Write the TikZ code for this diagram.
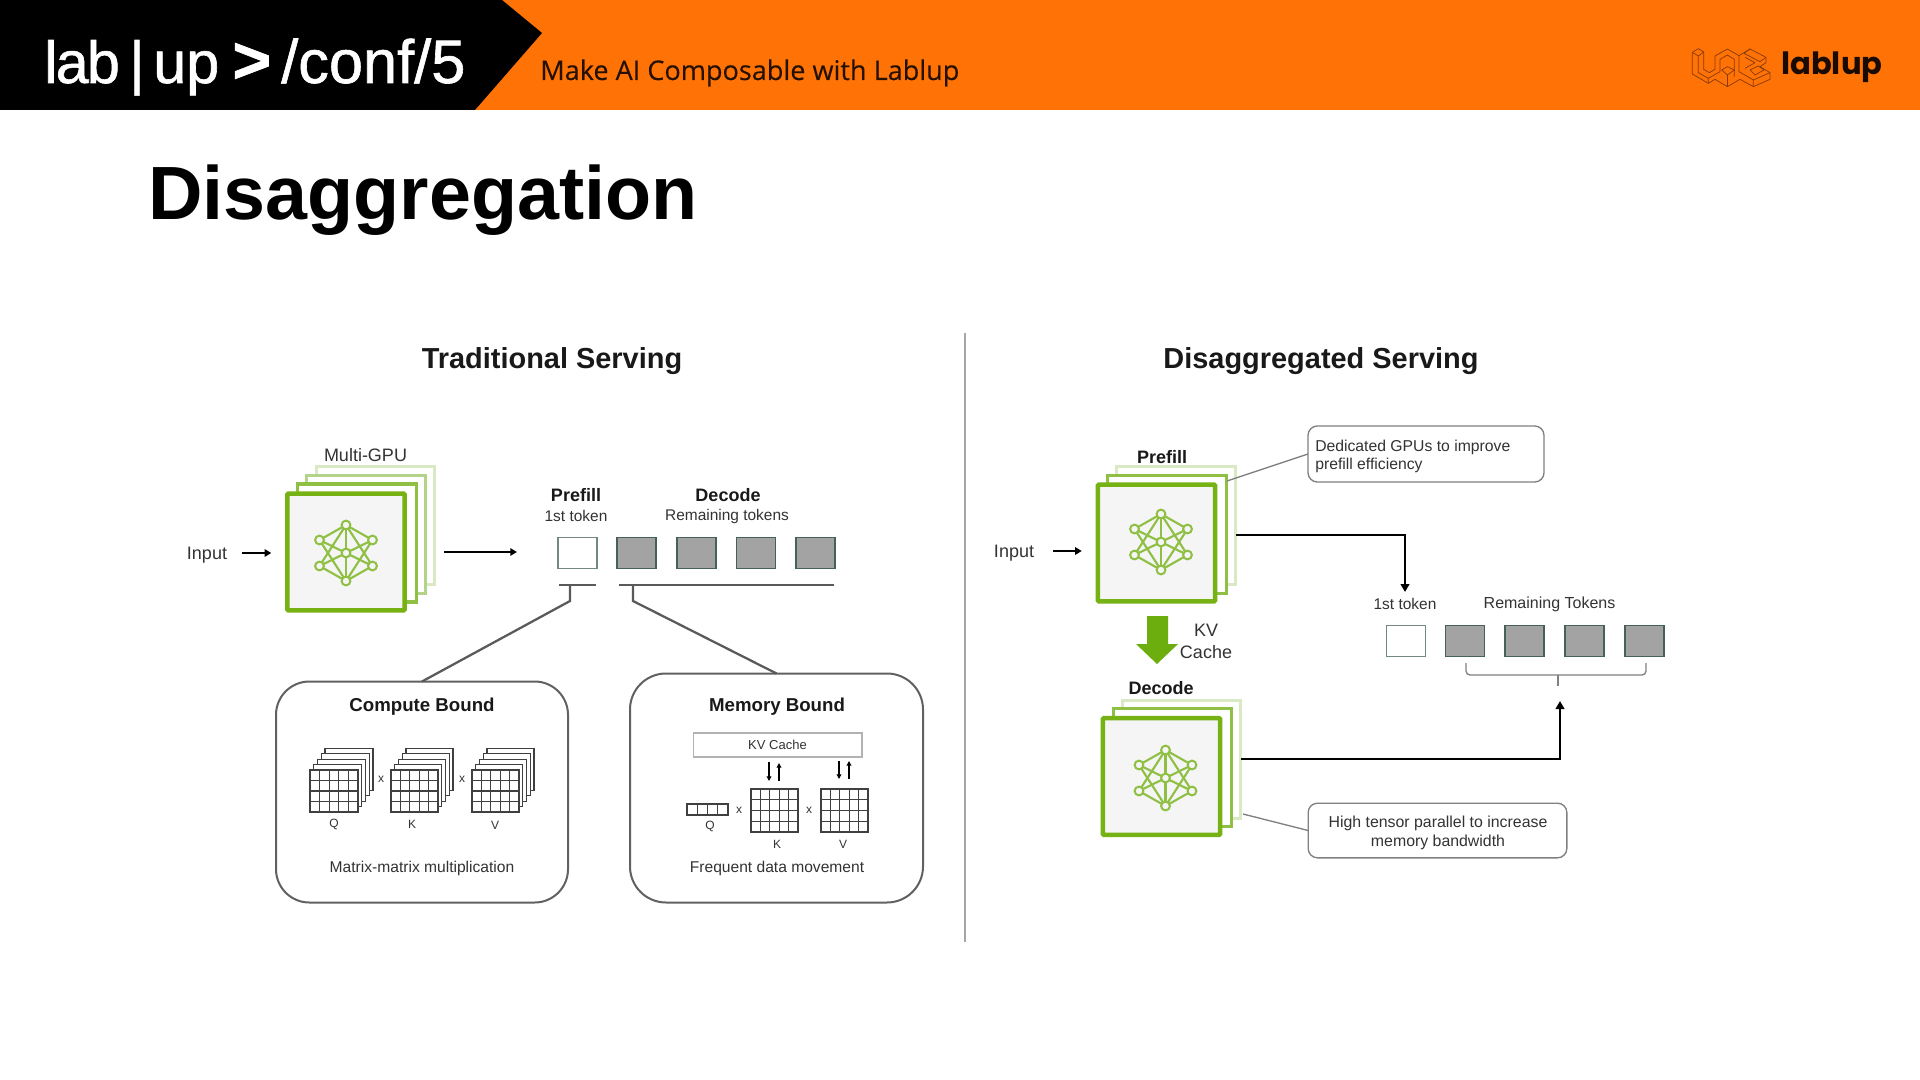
\documentclass[tikz,border=0pt]{standalone}
\usepackage{fontspec}
\setmainfont{Liberation Sans}
\newfontfamily\logofont{Poppins}
\newfontfamily\tagfont[FakeBold=0.25]{Open Sans}
\newfontfamily\bannerfont[LetterSpace=-3,FakeBold=1]{Liberation Sans}
\newfontfamily\bannerwide[FakeBold=1]{Liberation Sans}
\usetikzlibrary{arrows.meta,calc}
\definecolor{nvgreen}{HTML}{76B214}
\definecolor{nvgreenb}{HTML}{8FC044}
\definecolor{nvgreenc}{HTML}{B2D388}
\definecolor{nvgreend}{HTML}{D9E9C4}
\definecolor{arrowgreen}{HTML}{6CAE0E}
\definecolor{banner}{HTML}{FF7306}
\definecolor{txt}{HTML}{333333}
\definecolor{tokenfill}{HTML}{A3A3A3}
\definecolor{tokenline}{HTML}{46605A}
\definecolor{lineg}{HTML}{5A5A5A}
\definecolor{logoline}{HTML}{8A3A08}
\newcommand{\fs}[1]{\fontsize{#1}{#1}\selectfont}
\tikzset{
  x=0.75pt,y=-0.75pt,
  lbl/.style={inner sep=0,outer sep=0,text=txt,font=\fs{13.5}},
  boldlbl/.style={inner sep=0,outer sep=0,text=black!90,font=\fs{13.5}\bfseries},
  small/.style={inner sep=0,outer sep=0,text=txt,font=\fs{11.6}},
  tiny/.style={inner sep=0,outer sep=0,text=txt,font=\fs{9}},
  tokw/.style={draw=tokenline!75,line width=1.2pt,fill=white,inner sep=0,outer sep=0,minimum width=29.5pt,minimum height=23.5pt},
  tokg/.style={draw=tokenline,line width=1.2pt,fill=tokenfill,inner sep=0,outer sep=0,minimum width=29.5pt,minimum height=23.5pt},
  sq/.style={rectangle,inner sep=0,outer sep=0,minimum width=89pt,minimum height=88.5pt},
  sqa/.style={sq,draw=nvgreen,line width=3.4pt,fill=black!4,rounded corners=0.8pt,minimum width=88pt,minimum height=87.5pt},
  sqb/.style={sq,draw=nvgreenb,line width=2.4pt,fill=white},
  sqc/.style={sq,draw=nvgreenc,line width=2.4pt,fill=white},
  sqd/.style={sq,draw=nvgreend,line width=2.4pt,fill=white},
  netn/.style={circle,draw=nvgreenb,line width=1.5pt,fill=black!4,minimum size=6.6pt,inner sep=0,outer sep=0},
  netl/.style={draw=nvgreenb,line width=1.6pt},
  arrowk/.style={draw=black,line width=1.6pt,-{Triangle[length=5pt,width=5.5pt]}},
  bigbox/.style={rectangle,draw=black!62,line width=1.5pt,inner sep=0,outer sep=0},
  callout/.style={rectangle,draw=black!50,line width=1pt,rounded corners=7pt,inner sep=0,outer sep=0},
  leader/.style={draw=black!50,line width=1pt},
  bar/.style={draw=lineg,line width=1.7pt},
  gridl/.style={draw=black!75,line width=0.8pt},
  thickarrow/.style={draw=black,line width=2.2pt,-{Triangle[length=6pt,width=6.5pt]}},
  minarrow/.style={draw=black,line width=0.9pt,-{Triangle[length=3.5pt,width=3.5pt]}},
  logol/.style={draw=logoline,line width=0.55pt,line join=round},
}
% network icon: name, centre x, centre y
\newcommand{\netw}[3]{%
  \node[netn] (#1-t) at (#2,#3-28) {};
  \node[netn] (#1-b) at (#2,#3+28) {};
  \node[netn] (#1-ul) at (#2-26.5,#3-13) {};
  \node[netn] (#1-ur) at (#2+26.5,#3-13) {};
  \node[netn] (#1-ll) at (#2-26.5,#3+13) {};
  \node[netn] (#1-lr) at (#2+26.5,#3+13) {};
  \node[netn] (#1-c) at (#2,#3) {};
  \foreach \a/\b in {t/ul,t/ur,t/c,t/ll,t/lr,b/ll,b/lr,b/c,b/ul,b/ur,ul/c,ur/c,ll/c,lr/c}
    \draw[netl] (#1-\a) -- (#1-\b);
}
% matrix grid: x1,y1,x2,y2,cols,rows
\newcommand{\gridm}[6]{%
  \draw[gridl,fill=white] (#1,#2) rectangle (#3,#4);
  \foreach \i in {1,...,#5} {\pgfmathsetmacro{\xx}{#1+(#3-#1)*\i/#5}
    \draw[gridl] (\xx,#2) -- (\xx,#4);}
  \foreach \i in {1,...,#6} {\pgfmathsetmacro{\yy}{#2+(#4-#2)*\i/#6}
    \draw[gridl] (#1,\yy) -- (#3,\yy);}
}
% stacked matrix: x1,x2
\newcommand{\stackm}[2]{%
  \foreach \k in {4,3,2,1} {
    \draw[gridl,fill=white] (#1+3.75*\k,770-5.4*\k) rectangle (#2+3.75*\k,812-5.4*\k);}
  \gridm{#1}{770}{#2}{812}{5}{4}
}
\begin{document}
\begin{tikzpicture}
\useasboundingbox (0,0) rectangle (1920,1080);
\fill[white] (0,0) rectangle (1920,1080);
% header
\fill[banner] (0,0) rectangle (1920,110);
\fill[black] (0,0) -- (502,0) -- (542,33) -- (475,110) -- (0,110) -- cycle;
\node[anchor=base west,inner sep=0,text=white,font=\fs{44.5}\bannerwide] (banner) at (44,83) {{\bannerfont lab}\hskip7.1pt|\hskip6.4pt up\hskip9.75pt{\fs{50}\bfseries >}\hskip7.5pt{\fs{46}/conf/5}};
\node[anchor=base west,inner sep=0,text=black!85!banner,font=\fs{20.3}\tagfont] (tagline) at (540,80) {Make AI Composable with Lablup};
\node[anchor=base west,inner sep=0,text=black!90!banner,font=\fs{23}\logofont\bfseries] (logo) at (1781,75) {lablup};
% logo mark
\begin{scope}[shift={(1640,20)},x=0.25pt,y=-0.25pt]
\draw[logol] (157,97) -- (175,86) -- (191,96) -- (191,148) -- (208,158) -- (225,148) -- (225,108) -- (262,87) -- (297,107) -- (330,87) -- (378,112) -- (378,128) -- (360,140) -- (390,158) -- (390,178) -- (340,200) -- (300,178) -- (262,200) -- (225,178) -- (205,190) -- (157,162) -- cycle;
\draw[logol] (157,97) -- (175,108) -- (175,158) -- (205,175) -- (205,190);
\draw[logol] (175,108) -- (191,96);
\draw[logol] (205,175) -- (240,155) -- (240,118) -- (262,105) -- (283,118) -- (283,170);
\draw[logol] (262,140) -- (283,150) -- (262,165) -- (245,150) -- cycle;
\draw[logol] (262,165) -- (262,200);
\draw[logol] (297,107) -- (297,155) -- (340,180) -- (340,200);
\draw[logol] (340,180) -- (390,158);
\draw[logol] (315,112) -- (345,128) -- (315,145);
\draw[logol] (330,87) -- (312,100) -- (360,125) -- (378,112);
\draw[logol] (330,150) -- (355,138) -- (372,150) -- (345,165) -- cycle;
\end{scope}
% title
\node[anchor=base west,inner sep=0,text=black,font=\fs{56.6}\bfseries] (title) at (148,220) {Disaggregation};
% divider
\coordinate (divt) at (965,333);
\coordinate (divb) at (965,942);
\draw[black!35,line width=1.2pt] (divt) -- (divb);
\node[inner sep=0,text=black!90,font=\fs{21.7}\bfseries] (tradt) at (552,361.5) {Traditional Serving};
\node[inner sep=0,text=black!90,font=\fs{21.7}\bfseries] (disat) at (1321,361.5) {Disaggregated Serving};
% === traditional ===
\node[lbl] (multi) at (365.5,455) {Multi-GPU};
\node[sqd] (td) at (375.5,525.5) {};
\node[sqc] (tc) at (366,534.5) {};
\node[sqb] (tb) at (357,543) {};
\node[sqa] (ta) at (346,552) {};
\netw{tn}{346}{553}
\node[lbl] (tin) at (207,555) {Input};
\draw[arrowk] ($(tin.east)+(15,-2)$) -- ($(ta.west)+(-16,1)$);
\coordinate (tout) at (444,552);
\draw[arrowk] (tout) -- ($(tout)+(73,0)$);
\node[boldlbl] (tpre) at (576,495) {Prefill};
\node[small] (t1st) at (576,516) {1st token};
\node[boldlbl] (tdec) at (728,495) {Decode};
\node[small] (trem) at (727,516) {Remaining tokens};
\node[tokw] (t0) at (577.5,553) {};
\node[tokg] (t1) at (636.5,553) {};
\node[tokg] (t2) at (696.5,553) {};
\node[tokg] (t3) at (756,553) {};
\node[tokg] (t4) at (815.5,553) {};
\node[bigbox,rounded corners=25pt,minimum width=219pt,minimum height=165.75pt] (cb) at (422,792) {};
\node[bigbox,rounded corners=27pt,minimum width=219.75pt,minimum height=171.75pt] (mb) at (776.5,788) {};
\coordinate (ub1a) at (559,585); \coordinate (ub1b) at (596,585);
\coordinate (ub2a) at (619,585); \coordinate (ub2b) at (834,585);
\draw[bar] (ub1a) -- (ub1b);
\draw[bar] (ub2a) -- (ub2b);
\draw[bar] (570,585) -- (570,601) -- (cb.north);
\draw[bar] (633,585) -- (633,601) -- (mb.north);
% compute bound
\node[font=\fs{14}\bfseries,inner sep=0,text=black!90] (cbt) at (422,706.5) {Compute Bound};
\stackm{310}{358}
\stackm{391}{438}
\stackm{472}{519}
\node[tiny] (cx1) at (381,779) {x};
\node[tiny] (cx2) at (462,779) {x};
\node[tiny] (cq) at (334,824) {Q};
\node[tiny] (ck) at (412,824) {K};
\node[tiny] (cv) at (495,825) {V};
\node[font=\fs{11.7},inner sep=0,text=txt] (cbb) at (422,868) {Matrix-matrix multiplication};
% memory bound
\node[font=\fs{14}\bfseries,inner sep=0,text=black!90] (mbt) at (777,706.5) {Memory Bound};
\node[rectangle,draw=black!30,line width=1pt,inner sep=0,outer sep=0,minimum width=126.5pt,minimum height=18pt,font=\fs{9.75},text=txt] (kv) at (777.5,745) {KV Cache};
\draw[minarrow] (769,762) -- (769,781);
\draw[minarrow] (779,781) -- (779,763);
\draw[minarrow] (839,761) -- (839,779);
\draw[minarrow] (849,779) -- (849,761);
\gridm{687}{804}{728}{815}{4}{1}
\gridm{751}{789}{798}{832}{5}{4}
\gridm{821}{789}{868}{832}{5}{4}
\node[tiny] (mq) at (710,826) {Q};
\node[tiny] (mx1) at (739,810) {x};
\node[tiny] (mx2) at (809,810) {x};
\node[tiny] (mk) at (777,844) {K};
\node[tiny] (mv) at (843,844) {V};
\node[font=\fs{11.7},inner sep=0,text=txt] (mbb) at (777,868) {Frequent data movement};
% === disaggregated ===
\node[boldlbl] (dpre) at (1162,457) {Prefill};
\node[sqd] (pc) at (1176,525.5) {};
\node[sqb] (pb) at (1167,534.5) {};
\node[sqa] (pa) at (1156.5,543) {};
\netw{pn}{1161}{542}
\node[lbl] (din) at (1014,553.5) {Input};
\draw[arrowk] ($(din.east)+(19,-2.5)$) -- ($(pa.west)+(-16,8)$);
\node[callout,minimum width=177pt,minimum height=42pt] (c1) at (1426,454) {};
\node[anchor=base west,font=\fs{11.8},inner sep=0,text=txt] (c1a) at (1315,451) {Dedicated GPUs to improve};
\node[anchor=base west,font=\fs{11.8},inner sep=0,text=txt] (c1b) at (1315,469) {prefill efficiency};
\coordinate (pleader) at (1227,481);
\draw[leader] (c1.west) -- (pleader);
\node[small] (d1st) at (1405,604) {1st token};
\node[font=\fs{12},inner sep=0,text=txt] (drem) at (1549.5,604) {Remaining Tokens};
\node[tokw] (d0) at (1406,641) {};
\node[tokg] (d1) at (1465,641) {};
\node[tokg] (d2) at (1524.5,641) {};
\node[tokg] (d3) at (1584.5,641) {};
\node[tokg] (d4) at (1644.5,641) {};
\coordinate (pout) at (1236,535);
\draw[thickarrow] (pout) -| (1405,592);
% green arrow
\fill[arrowgreen] (1147,616) -- (1168,616) -- (1168,644) -- (1178,644) -- (1157,664) -- (1136,644) -- (1147,644) -- cycle;
\node[lbl] (kv1) at (1206,630) {KV};
\node[lbl] (kv2) at (1206,652) {Cache};
\node[boldlbl] (ddec) at (1161,688) {Decode};
\node[sqd] (qc) at (1181.5,759.5) {};
\node[sqb] (qb) at (1172.5,767.5) {};
\node[sqa] (qa) at (1161.5,776.5) {};
\netw{qn}{1165.5}{778}
\node[callout,minimum width=194pt,minimum height=41pt] (c2) at (1437.5,830.5) {};
\node[font=\fs{11.9},inner sep=0,text=txt] (c2a) at (1438,823) {High tensor parallel to increase};
\node[font=\fs{11.9},inner sep=0,text=txt] (c2b) at (1438,842) {memory bandwidth};
\coordinate (qleader) at (1243,814);
\draw[leader] (c2.west) -- (qleader);
\coordinate (qout) at (1241,759);
\draw[thickarrow] (qout) -| (1560,701);
% brace
\draw[draw=black!50,line width=1pt,rounded corners=3pt] (1466,663) -- (1466,675) -- (1646,675) -- (1646,663);
\draw[draw=black!50,line width=1pt] (1558,675) -- (1558,686);
\end{tikzpicture}
\end{document}
